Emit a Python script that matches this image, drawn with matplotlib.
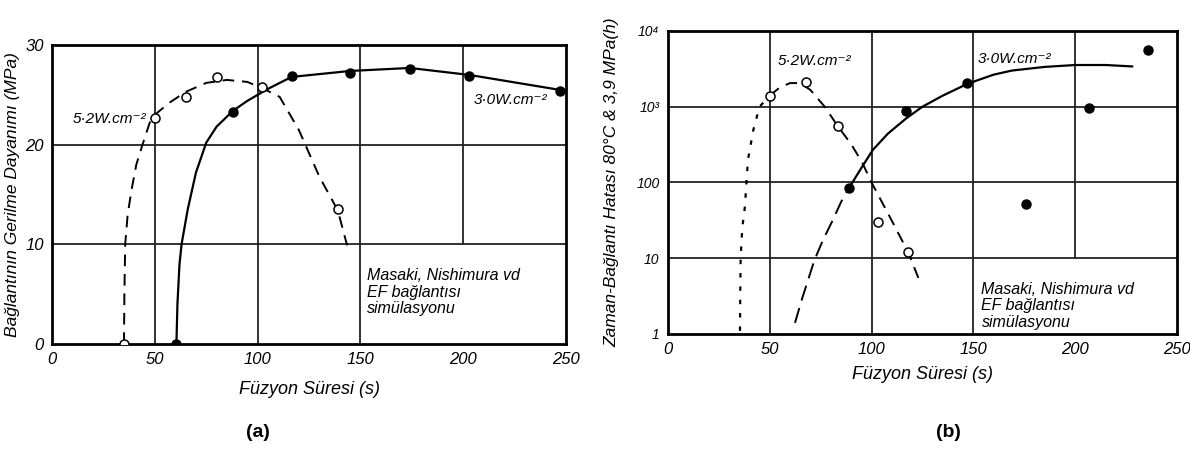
import matplotlib
matplotlib.use("Agg")
import matplotlib.pyplot as plt

plt.rcParams['font.family'] = ['Liberation Sans', 'DejaVu Sans']
plt.rcParams['font.style'] = 'italic'

# --- (a) tensile strength vs fusion time ---
a_open_x = [35, 50, 65, 80, 102, 139]
a_open_y = [0, 22.7, 24.8, 26.8, 25.8, 13.5]
a_fill_x = [60.5, 88, 116.5, 145, 174, 203, 247]
a_fill_y = [0, 23.3, 26.9, 27.2, 27.6, 26.9, 25.4]

# fitted curves as read along their paths
a_dash_x = [35, 35.2, 35.6, 36.8, 38.8, 41, 44, 47.5, 50, 57, 65, 75, 85, 95, 102, 110.7, 120, 130, 139, 143.5]
a_dash_y = [0, 5, 10, 13, 15.6, 18, 20, 22.2, 23, 24.2, 25.3, 26.2, 26.5, 26.3, 25.7, 24.8, 21.5, 16.8, 13.4, 9.9]
a_line_x = [60.5, 61, 62, 63, 66, 70, 75, 80, 88, 95, 105, 116.5, 145, 174, 203, 247]
a_line_y = [0, 4, 8, 10, 13.5, 17.2, 20.2, 21.8, 23.4, 24.4, 25.6, 26.8, 27.4, 27.7, 27.0, 25.5]

# --- (b) time to joint failure (log scale) ---
b_open_x = [50, 68, 83.5, 103, 118]
b_open_y = [1400, 2100, 550, 30, 12]
b_fill_x = [89, 117, 147, 176, 207, 236]
b_fill_y = [85, 880, 2080, 52, 970, 5600]

b_dot_x = [35.4, 35.5, 35.7, 36.5, 37.8, 39.3, 42, 45, 50]
b_dot_y = [1.1, 3, 10, 25, 48, 200, 500, 1000, 1400]
b_dash_x = [50, 55, 60, 65, 70, 77, 83.5, 90, 95.3, 100, 109, 118, 123]
b_dash_y = [1400, 1800, 2050, 2050, 1660, 1000, 550, 320, 186, 100, 35, 12, 5.5]
b_rise_x = [62.4, 66, 72, 76, 81, 85, 89]
b_rise_y = [1.4, 3, 9.5, 17, 32, 55, 85]
b_line_x = [89, 95.3, 100.7, 108, 117, 125, 135, 147, 160, 169, 185, 200, 215, 228]
b_line_y = [85, 160, 270, 440, 700, 1000, 1400, 2000, 2650, 3000, 3350, 3550, 3550, 3400]

fig = plt.figure(figsize=(11.9, 4.55), dpi=100)
ax1 = fig.add_axes([0.0437, 0.244, 0.432, 0.657])
ax2 = fig.add_axes([0.5613, 0.266, 0.4277, 0.666])

tick_font = dict(fontsize=12, style='italic')

# ---------- panel a ----------
ax1.set_xlim(0, 250)
ax1.set_ylim(0, 30)
for x in [50, 100, 150]:
    ax1.axvline(x, color='#222222', lw=1.3, zorder=1)
ax1.axvline(200, ymin=1/3, ymax=1, color='#222222', lw=1.3, zorder=1)
for y in [10, 20]:
    ax1.axhline(y, color='#222222', lw=1.3, zorder=1)

ax1.plot(a_dash_x, a_dash_y, color='black', lw=1.4, dashes=(6, 4), zorder=2)
ax1.plot(a_line_x, a_line_y, color='black', lw=1.6, zorder=2)
ax1.plot(a_open_x, a_open_y, 'o', ms=6.5, mfc='white', mec='black', mew=1.1, zorder=3)
ax1.plot(a_fill_x, a_fill_y, 'o', ms=6.5, mfc='black', mec='black', zorder=3)

ax1.set_xticks([0, 50, 100, 150, 200, 250])
ax1.set_yticks([0, 10, 20, 30])
ax1.set_xticklabels(['0', '50', '100', '150', '200', '250'], **tick_font)
ax1.set_yticklabels(['0', '10', '20', '30'], **tick_font)
ax1.tick_params(length=0, pad=6)
for s in ax1.spines.values():
    s.set_linewidth(2)

ax1.text(10, 22.6, '5·2W.cm⁻²', fontsize=11, ha='left', va='center')
ax1.text(205, 24.5, '3·0W.cm⁻²', fontsize=11, ha='left', va='center')
ax1.text(153, 5.2, 'Masaki, Nishimura vd\nEF bağlantısı\nsimülasyonu',
         fontsize=11.5, ha='left', va='center', linespacing=1.15)
ax1.set_ylabel('Bağlantının Gerilme Dayanımı (MPa)', fontsize=12.5, labelpad=4)
ax1.set_xlabel('Füzyon Süresi (s)', fontsize=13, labelpad=10)

# ---------- panel b ----------
ax2.set_xlim(0, 250)
ax2.set_yscale('log')
ax2.set_ylim(1, 1e4)
for x in [50, 100, 150]:
    ax2.axvline(x, color='#222222', lw=1.3, zorder=1)
ax2.axvline(200, ymin=0.25, ymax=1, color='#222222', lw=1.3, zorder=1)
for y in [10, 100, 1000]:
    ax2.axhline(y, color='#222222', lw=1.3, zorder=1)

ax2.plot(b_dot_x, b_dot_y, color='black', lw=1.6, dashes=(2, 4), zorder=2)
ax2.plot(b_dash_x, b_dash_y, color='black', lw=1.4, dashes=(6, 4), zorder=2)
ax2.plot(b_rise_x, b_rise_y, color='black', lw=1.4, dashes=(8, 4), zorder=2)
ax2.plot(b_line_x, b_line_y, color='black', lw=1.6, zorder=2)
ax2.plot(b_open_x, b_open_y, 'o', ms=6.5, mfc='white', mec='black', mew=1.1, zorder=3)
ax2.plot(b_fill_x, b_fill_y, 'o', ms=6.5, mfc='black', mec='black', zorder=3)

ax2.set_xticks([0, 50, 100, 150, 200, 250])
ax2.set_xticklabels(['0', '50', '100', '150', '200', '250'], **tick_font)
ax2.set_yticks([1, 10, 100, 1000, 10000])
ax2.set_yticklabels(['1', '10', '100', '10³', '10⁴'], fontsize=10, style='italic')
ax2.minorticks_off()
ax2.tick_params(length=0, pad=6)
for s in ax2.spines.values():
    s.set_linewidth(2)

ax2.text(54, 4000, '5·2W.cm⁻²', fontsize=11, ha='left', va='center')
ax2.text(152, 4300, '3·0W.cm⁻²', fontsize=11, ha='left', va='center')
ax2.text(154, 2.35, 'Masaki, Nishimura vd\nEF bağlantısı\nsimülasyonu',
         fontsize=11.5, ha='left', va='center', linespacing=1.15)
ax2.set_ylabel('Zaman-Bağlantı Hatası 80°C & 3,9 MPa(h)', fontsize=12.5, labelpad=12)
ax2.set_xlabel('Füzyon Süresi (s)', fontsize=13, labelpad=6)

fig.text(0.217, 0.04, '(a)', fontsize=14, fontweight='bold', style='normal', ha='center')
fig.text(0.797, 0.04, '(b)', fontsize=14, fontweight='bold', style='normal', ha='center')

fig.savefig('out.png', dpi=100, facecolor='white')
